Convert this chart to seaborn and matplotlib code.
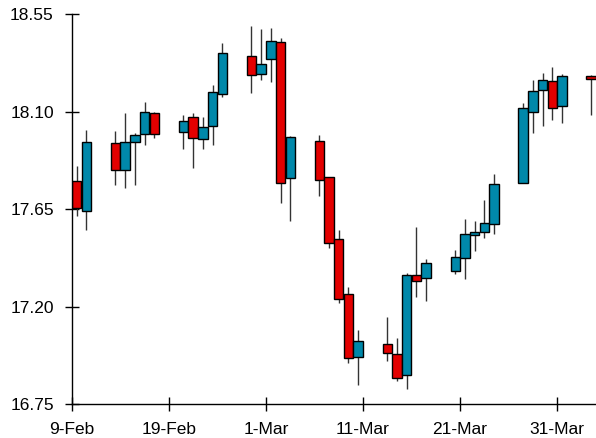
import matplotlib
matplotlib.use("Agg")
import matplotlib.pyplot as plt
import matplotlib.dates as mdates
import seaborn as sns
import pandas as pd
import numpy as np

dates = ["2017-02-09", "2017-02-10",
         "2017-02-13", "2017-02-14", "2017-02-15", "2017-02-16", "2017-02-17",
         "2017-02-20", "2017-02-21", "2017-02-22", "2017-02-23", "2017-02-24",
         "2017-02-27", "2017-02-28", "2017-03-01", "2017-03-02", "2017-03-03",
         "2017-03-06", "2017-03-07", "2017-03-08", "2017-03-09", "2017-03-10",
         "2017-03-13", "2017-03-14", "2017-03-15", "2017-03-16", "2017-03-17",
         "2017-03-20", "2017-03-21", "2017-03-22", "2017-03-23", "2017-03-24",
         "2017-03-27", "2017-03-28", "2017-03-29", "2017-03-30", "2017-03-31",
         "2017-04-03"]
open_ = [17.780, 17.642,
         17.954, 17.830, 17.959, 17.996, 18.094,
         18.006, 18.074, 17.974, 18.033, 18.181,
         18.358, 18.274, 18.341, 18.421, 17.791,
         17.965, 17.800, 17.512, 17.260, 16.968,
         17.026, 16.983, 16.882, 17.346, 17.330,
         17.364, 17.424, 17.530, 17.544, 17.579,
         17.770, 18.098, 18.197, 18.241, 18.125,
         18.266]
high = [17.850, 18.015,
        18.012, 18.092, 18.003, 18.146, 18.100,
        18.085, 18.092, 18.074, 18.223, 18.416,
        18.496, 18.479, 18.484, 18.438, 17.988,
        17.992, 17.800, 17.551, 17.291, 17.091,
        17.152, 17.056, 17.355, 17.567, 17.420,
        17.462, 17.604, 17.596, 17.693, 17.813,
        18.138, 18.246, 18.277, 18.307, 18.272,
        18.270]
low = [17.620, 17.555,
       17.759, 17.745, 17.762, 17.946, 17.980,
       17.927, 17.837, 17.927, 17.946, 18.166,
       18.185, 18.246, 18.238, 17.680, 17.593,
       17.708, 17.470, 17.217, 16.940, 16.840,
       16.950, 16.857, 16.820, 17.244, 17.227,
       17.352, 17.327, 17.455, 17.516, 17.535,
       17.770, 18.000, 18.035, 18.062, 18.049,
       18.085]
close = [17.655, 17.957,
         17.830, 17.959, 17.991, 18.097, 17.996,
         18.057, 17.979, 18.028, 18.189, 18.369,
         18.268, 18.318, 18.424, 17.770, 17.982,
         17.782, 17.493, 17.233, 16.962, 17.042,
         16.986, 16.871, 17.346, 17.318, 17.401,
         17.429, 17.536, 17.542, 17.585, 17.765,
         18.114, 18.194, 18.246, 18.118, 18.266,
         18.251]

y_ticks = [16.75, 17.20, 17.65, 18.10, 18.55]
x_tick_dates = ["2017-02-09", "2017-02-19", "2017-03-01", "2017-03-11", "2017-03-21", "2017-03-31"]
x_tick_labels = ["9-Feb", "19-Feb", "1-Mar", "11-Mar", "21-Mar", "31-Mar"]

UP = "#0088AA"
DOWN = "#E30000"

df = pd.DataFrame({"date": pd.to_datetime(dates), "open": open_, "high": high,
                   "low": low, "close": close})
df["x"] = mdates.date2num(df["date"]) + 0.5
df["bottom"] = df[["open", "close"]].min(axis=1)
df["height"] = (df["close"] - df["open"]).abs().clip(lower=0.008)
df["color"] = np.where(df["close"] >= df["open"], UP, DOWN)

sns.set_theme(style="ticks")
plt.rcParams["font.family"] = ["Liberation Sans", "DejaVu Sans"]

fig = plt.figure(figsize=(5.96, 4.38), dpi=100)
ax = fig.add_axes([0.1205, 0.0776, 0.8795, 0.8904])

ax.vlines(df["x"], df["low"], df["high"], color="#333333", linewidth=1.0, zorder=1)
ax.bar(df["x"], df["height"], bottom=df["bottom"], width=0.97, color=df["color"],
       edgecolor="black", linewidth=1.0, zorder=2)

x0 = mdates.date2num(pd.Timestamp("2017-02-09"))
ax.set_xlim(x0, x0 + 54)
ax.set_ylim(16.75, 18.55)
ax.set_yticks(y_ticks)
ax.set_yticklabels([f"{v:.2f}" for v in y_ticks])
ax.set_xticks(mdates.date2num(pd.to_datetime(x_tick_dates)))
ax.set_xticklabels(x_tick_labels)

sns.despine(ax=ax)
for s in ["left", "bottom"]:
    ax.spines[s].set_color("black")
    ax.spines[s].set_linewidth(1.0)
ax.tick_params(axis="both", direction="inout", length=10, width=1, color="black",
               labelsize=12.5, labelcolor="black")
ax.tick_params(axis="y", pad=8)
ax.tick_params(axis="x", pad=8)

fig.savefig("out.png", dpi=100)
